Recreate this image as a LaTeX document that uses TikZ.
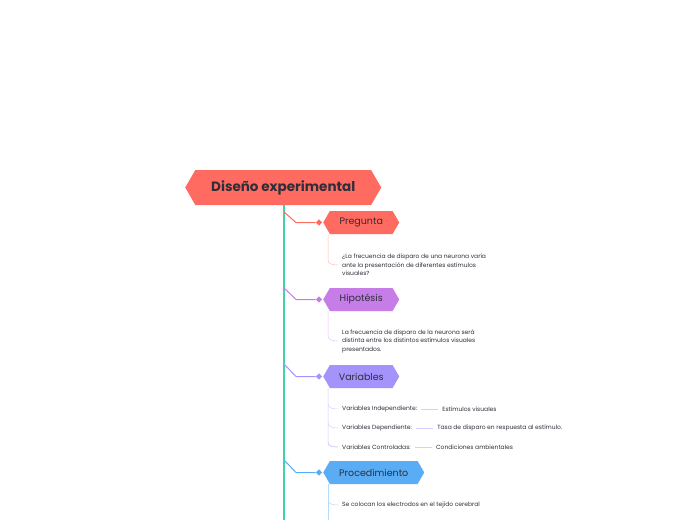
\documentclass[tikz,border=0pt]{standalone}
\usepackage{fontspec}
\setmainfont{Poppins}
\usetikzlibrary{shapes.symbols,shapes.geometric,positioning}
\definecolor{rojo}{HTML}{FF6B61}
\definecolor{lila}{HTML}{C77DE8}
\definecolor{violeta}{HTML}{A393FA}
\definecolor{azul}{HTML}{5AADF5}
\definecolor{verde}{HTML}{3FD3A8}
\definecolor{tinta}{HTML}{2E2E3A}
\tikzset{
  hexa/.style={signal, signal to=west and east, signal pointer angle=120, fill=#1, draw=none,
    text=tinta, inner xsep=6pt, minimum height=23pt, font=\fontsize{9.5}{11}\selectfont, anchor=west},
  nota/.style={anchor=west, align=left, text=tinta, inner sep=0pt, font=\fontsize{6}{8.5}\selectfont},
  rama/.style={line width=1pt, #1},
  hoja/.style={line width=0.5pt, #1!45},
  punta/.style={diamond, fill=#1, inner sep=1.6pt}
}
\begin{document}
\begin{tikzpicture}[x=1pt,y=-1pt]
\useasboundingbox (0,0) rectangle (697,520);
\fill[white] (0,0) rectangle (697,520);

% titulo y tronco
\node[hexa=rojo, minimum width=196pt, minimum height=35pt, font=\fontsize{13.5}{15}\bfseries\selectfont] (titulo) at (185,187.5) {Diseño experimental};
\coordinate (base) at (284,520);
\draw[verde, line width=1.5pt] (284,205) -- (base);

% Pregunta
\node[hexa=rojo, minimum width=76pt] (preg) at (323,222.5) {Pregunta};
\node[punta=rojo] (dp) at (319,222.5) {};
\draw[rama=rojo] (284,212) -- (296,222.5) -- (dp);
\node[nota] (tpreg) at (342,265) {¿La frecuencia de disparo de una neurona varía\\ante la presentación de diferentes estímulos\\visuales?};
\draw[hoja=rojo] (328,234) -- (328,260) to[out=-90,in=180] (338,265);

% Hipotesis
\node[hexa=lila, minimum width=76pt] (hipo) at (323,299.5) {Hipotésis};
\node[punta=lila] (dh) at (319,299.5) {};
\draw[rama=lila] (284,288) -- (296,299.5) -- (dh);
\node[nota] (thipo) at (342,341) {La frecuencia de disparo de la neurona será\\distinta entre los distintos estímulos visuales\\presentados.};
\draw[hoja=lila] (328,311) -- (328,336) to[out=-90,in=180] (338,341);

% Variables
\node[hexa=violeta, minimum width=76pt] (vari) at (323,376.5) {Variables};
\node[punta=violeta] (dv) at (319,376.5) {};
\draw[rama=violeta] (284,364) -- (296,376.5) -- (dv);
\draw[hoja=violeta] (328,388) -- (328,443) to[out=-90,in=180] (338,447);
\foreach \y/\nom/\lab/\val/\sep in {409/vi/Variables Independiente:/Estímulos visuales/25,
                                    428/vd/Variables Dependiente:/Tasa de disparo en respuesta al estímulo./25,
                                    447/vc/Variables Controladas:/Condiciones ambientales/25}{
  \node[nota] (\nom) at (342,\y) {\lab};
  \node[nota, right=\sep pt of \nom] (\nom v) {\val};
  \draw[hoja=violeta] ([xshift=4pt]\nom.east) -- ([xshift=-4pt]\nom v.west);
  \draw[hoja=violeta] (328,\y-5) to[out=-90,in=180] (338,\y);
}

% Procedimiento
\node[hexa=azul, minimum width=101pt] (proc) at (323,472.5) {Procedimiento};
\node[punta=azul] (dpr) at (319,472.5) {};
\draw[rama=azul] (284,460) -- (296,472.5) -- (dpr);
\node[nota] (p1) at (342,505) {Se colocan los electrodos en el tejido cerebral};
\coordinate (fin) at (328,520);
\draw[hoja=azul] (328,484) -- (fin);
\draw[hoja=azul] (328,500) to[out=-90,in=180] (338,505);
\end{tikzpicture}
\end{document}
